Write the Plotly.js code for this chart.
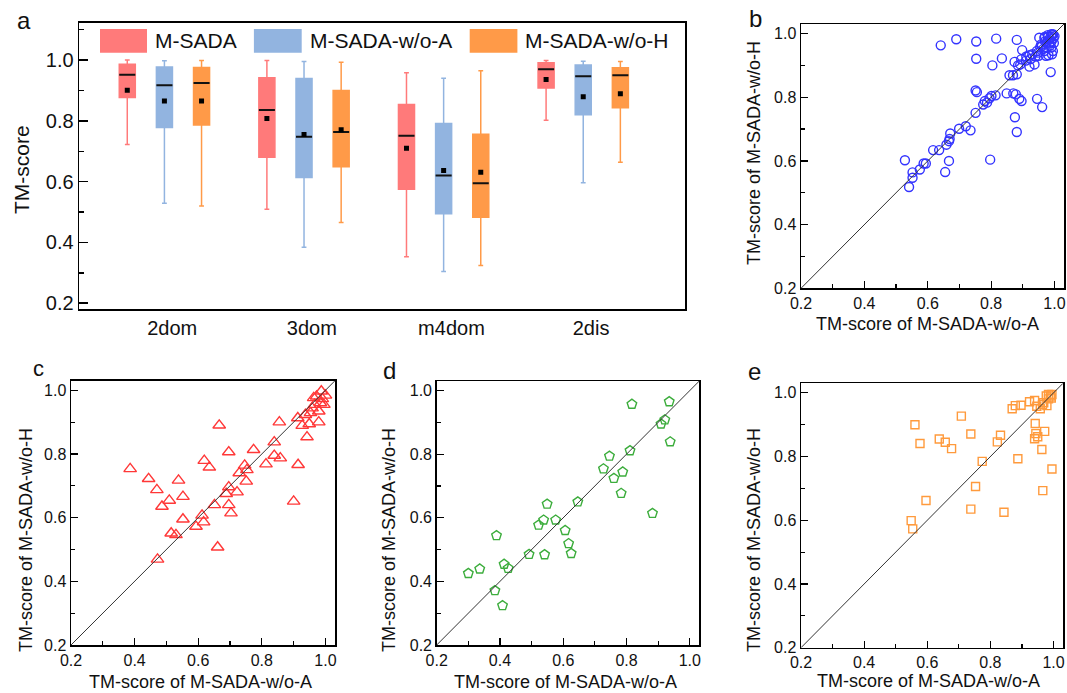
<!DOCTYPE html>
<html><head><meta charset="utf-8">
<script src="https://cdn.plot.ly/plotly-3.0.1.min.js"></script>
<style>html,body{margin:0;padding:0;background:#fff;}#chart{width:1067px;height:693px;}</style>
</head><body><div id="chart"></div>
<script>
// ---------- Panel a data ----------
const categories = ['2dom', '3dom', 'm4dom', '2dis'];
const seriesNames = ['M-SADA', 'M-SADA-w/o-A', 'M-SADA-w/o-H'];

const sadaUpper  = [1.000, 0.999, 0.958, 0.999];
const sadaQ3     = [0.986, 0.942, 0.854, 0.991];
const sadaMedian = [0.952, 0.836, 0.751, 0.970];
const sadaQ1     = [0.877, 0.680, 0.575, 0.908];
const sadaLower  = [0.722, 0.509, 0.353, 0.802];
const sadaMean   = [0.901, 0.808, 0.710, 0.936];

const woAUpper  = [0.998, 0.995, 0.940, 0.996];
const woAQ3     = [0.977, 0.939, 0.791, 0.984];
const woAMedian = [0.917, 0.748, 0.620, 0.947];
const woAQ1     = [0.778, 0.614, 0.494, 0.820];
const woALower  = [0.529, 0.384, 0.304, 0.596];
const woAMean   = [0.865, 0.755, 0.637, 0.879];

const woHUpper  = [0.999, 0.993, 0.965, 0.995];
const woHQ3     = [0.976, 0.900, 0.756, 0.975];
const woHMedian = [0.925, 0.763, 0.595, 0.950];
const woHQ1     = [0.786, 0.649, 0.483, 0.843];
const woHLower  = [0.520, 0.466, 0.324, 0.664];
const woHMean   = [0.865, 0.771, 0.631, 0.889];

// ---------- Panel b data (w/o-A vs w/o-H) ----------
const bX = [0.528,0.541,0.552,0.552,0.575,0.587,0.594,0.617,0.636,0.641,0.655,0.667,0.659,0.667,0.671,0.669,0.690,0.699,0.720,0.735,
  0.751,0.753,0.753,0.751,0.755,0.775,0.780,0.787,0.795,0.797,0.801,0.804,0.814,0.816,0.834,0.849,0.858,0.869,0.881,0.870,
  0.878,0.875,0.881,0.881,0.874,0.889,0.896,0.898,0.895,0.892,0.911,0.921,0.921,0.937,0.940,0.944,0.945,0.961,0.952,0.968,
  0.979,0.990,0.995,1.000,0.984,0.990,0.981,0.968,0.958,0.995,0.988,0.960,0.970,0.975,0.985,0.990,0.993,0.980,0.965,0.955,
  0.975,0.990,0.997,0.970,0.985,0.948,0.930,0.925,0.910,0.885,0.950,0.998,0.992,0.973];
const bY = [0.602,0.518,0.547,0.564,0.573,0.592,0.592,0.634,0.634,0.963,0.565,0.600,0.651,0.662,0.686,0.669,0.982,0.701,0.709,0.696,
  0.751,0.975,0.921,0.821,0.816,0.777,0.788,0.783,0.797,0.604,0.804,0.900,0.806,0.984,0.922,0.812,0.869,0.869,0.872,0.812,
  0.809,0.737,0.691,0.980,0.911,0.795,0.788,0.948,0.919,0.903,0.928,0.932,0.896,0.903,0.928,0.945,0.795,0.769,0.987,0.987,
  0.995,0.998,0.998,0.992,0.972,0.956,0.932,0.945,0.966,0.945,0.879,0.960,0.975,0.970,0.985,0.990,0.995,0.990,0.952,0.958,
  0.955,0.975,0.985,0.990,0.962,0.940,0.935,0.920,0.915,0.900,0.930,0.970,0.935,0.930];

// ---------- Panel c data ----------
const cX = [0.386,0.444,0.470,0.472,0.486,0.509,0.515,0.530,0.538,0.552,0.552,0.593,0.612,0.617,0.619,0.635,0.651,0.661,0.666,0.688,
  0.696,0.696,0.696,0.703,0.722,0.729,0.746,0.753,0.751,0.774,0.813,0.839,0.839,0.858,0.855,0.900,0.914,0.913,0.927,0.942,
  0.949,0.953,0.963,0.966,0.979,0.979,0.984,0.972,0.987,0.990,0.995,1.000,0.937,0.958];
const cY = [0.753,0.722,0.687,0.469,0.635,0.654,0.551,0.546,0.717,0.666,0.595,0.572,0.607,0.586,0.779,0.758,0.640,0.507,0.890,0.675,
  0.806,0.696,0.640,0.614,0.680,0.740,0.764,0.750,0.714,0.813,0.768,0.837,0.795,0.787,0.900,0.651,0.766,0.913,0.889,0.853,
  0.894,0.929,0.976,0.955,0.900,0.934,0.960,0.981,0.997,0.973,0.955,0.984,0.923,0.944];

// ---------- Panel d data ----------
const dX = [0.300,0.336,0.384,0.389,0.408,0.413,0.426,0.492,0.522,0.538,0.541,0.549,0.576,0.606,0.617,0.625,0.646,0.727,0.746,0.760,
  0.783,0.788,0.811,0.817,0.882,0.909,0.921,0.935,0.938];
const dY = [0.425,0.439,0.371,0.544,0.324,0.454,0.441,0.485,0.577,0.593,0.484,0.643,0.593,0.560,0.519,0.488,0.650,0.754,0.794,0.724,
  0.677,0.744,0.811,0.957,0.614,0.895,0.908,0.965,0.839];

// ---------- Panel e data ----------
const eX = [0.549,0.554,0.561,0.577,0.596,0.638,0.657,0.677,0.708,0.738,0.738,0.753,0.774,0.822,0.832,0.843,0.869,0.879,0.897,0.887,
  0.924,0.940,0.942,0.940,0.944,0.950,0.947,0.958,0.963,0.972,0.966,0.979,0.995,0.969,0.977,0.984,0.990,0.995,0.984,0.993,0.965];
const eY = [0.599,0.573,0.900,0.841,0.662,0.855,0.845,0.825,0.927,0.871,0.635,0.706,0.785,0.846,0.867,0.625,0.950,0.960,0.961,0.793,
  0.972,0.976,0.904,0.856,0.872,0.862,0.958,0.950,0.822,0.879,0.693,0.960,0.761,0.969,0.990,0.995,0.990,0.995,0.981,0.984,0.963];

// ---------- styles ----------
const FONT = 'Arial, "Liberation Sans", sans-serif';
const boxColors = ['#FF7A7A', '#92B4E0', '#FF9A48'];
const boxOffsets = [-0.322, -0.056, 0.210];
const boxWidth = 0.115;
const W = 1067, H = 693;
const px = v => v / W;
const py = v => 1 - v / H;

const stats = [
  {up: sadaUpper, q3: sadaQ3, med: sadaMedian, q1: sadaQ1, lo: sadaLower, mean: sadaMean},
  {up: woAUpper, q3: woAQ3, med: woAMedian, q1: woAQ1, lo: woALower, mean: woAMean},
  {up: woHUpper, q3: woHQ3, med: woHMedian, q1: woHQ1, lo: woHLower, mean: woHMean}
];

const traces = [];
stats.forEach((s, k) => {
  const xs = categories.map((c, i) => i + boxOffsets[k]);
  traces.push({
    type: 'box', name: seriesNames[k], x: xs, q1: s.q1, median: s.med, q3: s.q3,
    lowerfence: s.lo, upperfence: s.up, width: boxWidth, whiskerwidth: 0.3,
    fillcolor: boxColors[k], line: {color: boxColors[k], width: 1.5},
    xaxis: 'x', yaxis: 'y', showlegend: false, hoverinfo: 'skip'
  });
  traces.push({
    type: 'box', name: seriesNames[k] + ' median', x: xs, q1: s.med, median: s.med, q3: s.med,
    lowerfence: s.med, upperfence: s.med, width: boxWidth, whiskerwidth: 0,
    fillcolor: 'rgba(0,0,0,0)', line: {color: '#111', width: 2},
    xaxis: 'x', yaxis: 'y', showlegend: false, hoverinfo: 'skip'
  });
  traces.push({
    type: 'scatter', mode: 'markers', x: xs, y: s.mean,
    marker: {symbol: 'square', size: 5, color: '#000'},
    xaxis: 'x', yaxis: 'y', showlegend: false, hoverinfo: 'skip'
  });
});

function scat(x, y, ax, symbol, color, size) {
  traces.push({
    type: 'scatter', mode: 'markers', x: x, y: y, xaxis: 'x' + ax, yaxis: 'y' + ax,
    marker: {symbol: symbol, size: size, color: color, line: {color: color, width: 1.4}},
    showlegend: false, hoverinfo: 'skip'
  });
}
scat(bX, bY, 2, 'circle-open', '#3434FF', 9);
scat(cX, cY, 3, 'triangle-up-open', '#FF3838', 11);
scat(dX, dY, 4, 'pentagon-open', '#3CAD3C', 10);
scat(eX, eY, 5, 'square-open', '#FF9A3C', 8);

function sAxis(domain, anchor) {
  return {
    domain: domain, anchor: anchor, range: [0.2, 1.03], tick0: 0.2, dtick: 0.2, tickformat: '.1f',
    ticks: 'inside', ticklen: 7, tickwidth: 1.2, tickcolor: '#000',
    minor: {dtick: 0.1, tick0: 0.2, ticks: 'inside', ticklen: 4, tickwidth: 1.2, tickcolor: '#000', showgrid: false},
    showline: true, mirror: true, linecolor: '#000', linewidth: 1.5,
    showgrid: false, zeroline: false, fixedrange: true,
    tickfont: {family: FONT, size: 16, color: '#111'}
  };
}

const layout = {
  width: W, height: H, margin: {l: 0, r: 0, t: 0, b: 0},
  paper_bgcolor: '#fff', plot_bgcolor: '#fff', showlegend: false,
  font: {family: FONT, color: '#111'},
  xaxis: {
    domain: [px(79.4), px(685)], anchor: 'y', range: [-0.665, 3.673],
    tickvals: categories.map((c, i) => i), ticktext: categories, ticks: '',
    showline: true, mirror: true, linecolor: '#000', linewidth: 1.8,
    showgrid: false, zeroline: false, fixedrange: true,
    tickfont: {family: FONT, size: 20, color: '#111'}
  },
  yaxis: {
    domain: [py(309.3), py(22.7)], anchor: 'x', range: [0.18, 1.123], tick0: 0.2, dtick: 0.2, tickformat: '.1f',
    ticks: 'inside', ticklen: 9, tickwidth: 1.5, tickcolor: '#000',
    minor: {dtick: 0.1, tick0: 0.2, ticks: 'inside', ticklen: 5, tickwidth: 1.5, tickcolor: '#000', showgrid: false},
    showline: true, mirror: true, linecolor: '#000', linewidth: 1.8,
    showgrid: false, zeroline: false, fixedrange: true,
    tickfont: {family: FONT, size: 20, color: '#111'}
  },
  xaxis2: sAxis([px(801), px(1064)], 'y2'),
  yaxis2: sAxis([py(288.3), py(24)], 'x2'),
  xaxis3: sAxis([px(71), px(335)], 'y3'),
  yaxis3: sAxis([py(645), py(380.7)], 'x3'),
  xaxis4: sAxis([px(436.7), px(699.3)], 'y4'),
  yaxis4: sAxis([py(645), py(381)], 'x4'),
  xaxis5: sAxis([px(801), px(1063)], 'y5'),
  yaxis5: sAxis([py(647.7), py(383.3)], 'x5'),
  shapes: [],
  annotations: []
};

// diagonal reference lines
[2, 3, 4, 5].forEach(a => {
  layout.shapes.push({type: 'line', xref: 'x' + a, yref: 'y' + a, x0: 0.2, y0: 0.2, x1: 1.03, y1: 1.03,
    line: {color: '#333', width: 1}});
});

// legend of panel a
const legRects = [[100, 147], [253.9, 301.7], [469.7, 517.4]];
const legText = [152.9, 307.6, 523.4];
seriesNames.forEach((n, k) => {
  layout.shapes.push({type: 'rect', xref: 'paper', yref: 'paper', x0: px(legRects[k][0]), x1: px(legRects[k][1]),
    y0: py(52.7), y1: py(29), fillcolor: boxColors[k], line: {width: 0}});
  layout.annotations.push({xref: 'paper', yref: 'paper', x: px(legText[k]), y: py(40.8), xanchor: 'left', yanchor: 'middle',
    text: n, showarrow: false, font: {family: FONT, size: 21, color: '#111'}});
});

function ann(text, x, y, size, angle) {
  layout.annotations.push({xref: 'paper', yref: 'paper', x: px(x), y: py(y), xanchor: 'center', yanchor: 'middle',
    text: text, showarrow: false, textangle: angle || 0, font: {family: FONT, size: size, color: '#111'}});
}
// panel letters
ann('a', 24, 21, 24);
ann('b', 755, 18, 24);
ann('c', 38, 368, 22);
ann('d', 389, 370, 24);
ann('e', 754, 371, 24);
// axis titles
ann('TM-score', 21, 170, 21, -90);
ann('TM-score of M-SADA-w/o-A', 927, 324, 18);
ann('TM-score of M-SADA-w/o-H', 754, 153, 18, -90);
ann('TM-score of M-SADA-w/o-A', 200, 682, 18);
ann('TM-score of M-SADA-w/o-H', 26, 540, 18, -90);
ann('TM-score of M-SADA-w/o-A', 565, 682, 18);
ann('TM-score of M-SADA-w/o-H', 389, 540, 18, -90);
ann('TM-score of M-SADA-w/o-A', 928, 681, 18);
ann('TM-score of M-SADA-w/o-H', 754, 540, 18, -90);

Plotly.newPlot('chart', traces, layout, {displayModeBar: false, staticPlot: true});
</script></body></html>
